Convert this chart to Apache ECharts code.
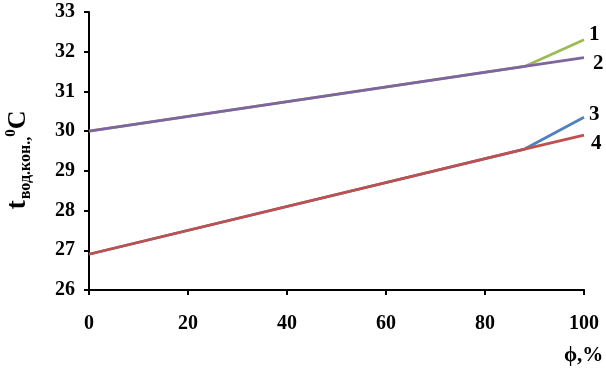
<!DOCTYPE html>
<html><head><meta charset="utf-8">
<script src="https://cdn.jsdelivr.net/npm/echarts@6/dist/echarts.min.js"></script>
<style>html,body{margin:0;padding:0;background:#fff}#c{width:606px;height:369px}</style>
</head><body><div id="c"></div>
<script>
const xTicks = [0, 20, 40, 60, 80, 100];
const yTicks = [26, 27, 28, 29, 30, 31, 32, 33];
const xPts = [0, 88, 100];
const line1 = [30.0, 31.63, 32.3];
const line2 = [30.0, 31.63, 31.85];
const line3 = [26.9, 29.55, 30.35];
const line4 = [26.9, 29.55, 29.9];
const lineNames = ['1', '2', '3', '4'];
const colors = ['#9bbb59', '#8064a2', '#4f81bd', '#c0504d'];

const font = '"Liberation Serif","Times New Roman",serif';
const chart = echarts.init(document.getElementById('c'));
const allData = [line1, line2, line3, line4];
const series = allData.map((vals, i) => ({
  type: 'line', name: lineNames[i],
  data: vals.map((v, k) => [xPts[k], v]),
  showSymbol: false, symbol: 'none',
  lineStyle: { color: colors[i], width: 2.8 },
  z: [2, 4, 2, 4][i],
  endLabel: {
    show: true, formatter: lineNames[i], color: '#000',
    fontFamily: font, fontWeight: 'bold', fontSize: 21,
    offset: [[-3, -5], [1, 6], [-3, -3], [-1, 8]][i]
  },
  animation: false
}));
chart.setOption({
  animation: false,
  grid: { left: 89, right: 22, top: 12, bottom: 79 },
  xAxis: {
    type: 'value', min: 0, max: 100, interval: 20,
    axisLine: { show: true, lineStyle: { color: '#000', width: 2 } },
    axisTick: { show: true, length: 5, lineStyle: { color: '#000', width: 2 } },
    splitLine: { show: false },
    axisLabel: { color: '#000', fontFamily: font, fontWeight: 'bold', fontSize: 20, margin: 24 }
  },
  yAxis: {
    type: 'value', min: 26, max: 33, interval: 1,
    axisLine: { show: true, lineStyle: { color: '#000', width: 2 } },
    axisTick: { show: true, length: 5, lineStyle: { color: '#000', width: 2 } },
    splitLine: { show: false },
    axisLabel: { color: '#000', fontFamily: font, fontWeight: 'bold', fontSize: 20, margin: 14 }
  },
  graphic: [
    {
      type: 'text', left: 564, top: 345,
      style: { text: 'ϕ,%', fill: '#000', font: 'bold 21px ' + font }
    },
    {
      type: 'text', x: 18, y: 160, rotation: Math.PI / 2,
      style: {
        text: '{t|t}{s|вод.кон.,}{p|0}{c|C}',
        align: 'center', verticalAlign: 'middle',
        rich: {
          t: { fontFamily: font, fontWeight: 'bold', fontSize: 28, fill: '#000' },
          s: { fontFamily: font, fontWeight: 'bold', fontSize: 16, fill: '#000', padding: [16, 0, 0, 1] },
          p: { fontFamily: font, fontWeight: 'bold', fontSize: 15, fill: '#000', padding: [0, 0, 14, 0] },
          c: { fontFamily: font, fontWeight: 'bold', fontSize: 26, fill: '#000' }
        }
      }
    }
  ],
  series: series
});
</script></body></html>
